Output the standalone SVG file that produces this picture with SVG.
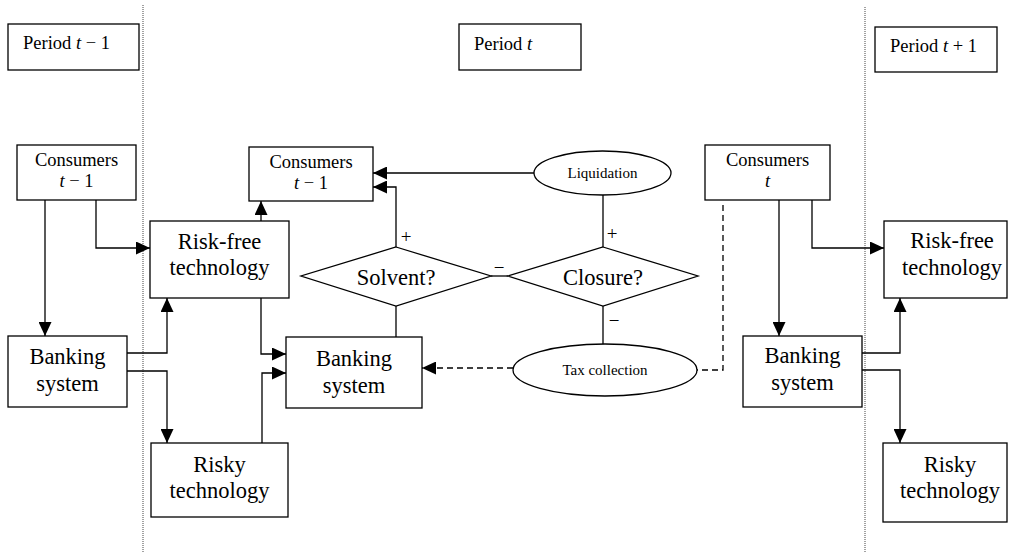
<svg xmlns="http://www.w3.org/2000/svg" width="1012" height="556" viewBox="0 0 1012 556">
<style>
.box{fill:#fff;stroke:#000;stroke-width:1.3}
.line{fill:none;stroke:#000;stroke-width:1.3}
.dash{fill:none;stroke:#000;stroke-width:1.3;stroke-dasharray:6,4}
.dot{fill:none;stroke:#444;stroke-width:1;stroke-dasharray:1,1}
text{font-family:"Liberation Serif","Times New Roman",serif;fill:#000}
.big{font-size:22.5px;text-anchor:middle}
.mid{font-size:18.5px;text-anchor:middle}
.per{font-size:18.5px}
.sm{font-size:15px;text-anchor:middle}
.sign{font-size:19px;text-anchor:middle}
.i{font-style:italic}
</style>
<defs>
<marker id="arr" markerUnits="userSpaceOnUse" markerWidth="14" markerHeight="13" refX="14" refY="6.5" orient="auto">
<path d="M0,0 L14,6.5 L0,13 z" fill="#000"/>
</marker>
</defs>
<rect width="1012" height="556" fill="#fff"/>
<g id="dividers">
<line class="dot" x1="143" y1="5" x2="143" y2="553"/>
<line class="dot" x1="865" y1="7" x2="865" y2="553"/>
</g>
<g id="connectors">
<path class="line" d="M45,200 V336" marker-end="url(#arr)"/>
<path class="line" d="M96,200 V248 H150" marker-end="url(#arr)"/>
<path class="line" d="M127,353 H167 V298" marker-end="url(#arr)"/>
<path class="line" d="M127,371 H167 V443" marker-end="url(#arr)"/>
<path class="line" d="M261,221 V201" marker-end="url(#arr)"/>
<path class="line" d="M261,298 V354 H286" marker-end="url(#arr)"/>
<path class="line" d="M262,443 V373 H286" marker-end="url(#arr)"/>
<path class="line" d="M534,173 H373" marker-end="url(#arr)"/>
<path class="line" d="M396,247 V187 H373" marker-end="url(#arr)"/>
<path class="line" d="M491,276 H508"/>
<path class="line" d="M603,195 V247"/>
<path class="line" d="M396,306 V337"/>
<path class="line" d="M603,306 V344"/>
<path class="dash" d="M513,368 H422" marker-end="url(#arr)"/>
<path class="dash" d="M723,205 V370 H697"/>
<path class="line" d="M779,200 V336" marker-end="url(#arr)"/>
<path class="line" d="M812,200 V248 H884" marker-end="url(#arr)"/>
<path class="line" d="M862,353 H900 V298" marker-end="url(#arr)"/>
<path class="line" d="M862,370 H900 V443" marker-end="url(#arr)"/>
<text class="sign" x="406" y="243">+</text>
<text class="sign" x="612" y="240">+</text>
<text class="sign" x="499" y="274">−</text>
<text class="sign" x="614" y="327">−</text>
</g>
<g id="period-t-minus-1">
<rect class="box" x="8" y="24" width="131" height="46"/>
<text class="per" x="23" y="49">Period <tspan class="i">t</tspan> − 1</text>
</g>
<g id="period-t">
<rect class="box" x="459" y="24" width="122" height="46"/>
<text class="per" x="474" y="50">Period <tspan class="i">t</tspan></text>
</g>
<g id="period-t-plus-1">
<rect class="box" x="875" y="27" width="122" height="45"/>
<text class="per" x="890" y="52">Period <tspan class="i">t</tspan> + 1</text>
</g>
<g id="consumers-left">
<rect class="box" x="17" y="145" width="119" height="55"/>
<text class="mid" x="76.5" y="166">Consumers</text>
<text class="mid" x="76.5" y="187"><tspan class="i">t</tspan> − 1</text>
</g>
<g id="riskfree-left">
<rect class="box" x="150" y="221" width="139" height="77"/>
<text class="big" x="219.5" y="249">Risk-free</text>
<text class="big" x="219.5" y="275">technology</text>
</g>
<g id="banking-left">
<rect class="box" x="8" y="336" width="119" height="71"/>
<text class="big" x="67.5" y="364">Banking</text>
<text class="big" x="67.5" y="391">system</text>
</g>
<g id="risky-left">
<rect class="box" x="151" y="443" width="137" height="74"/>
<text class="big" x="219.5" y="472">Risky</text>
<text class="big" x="219.5" y="498">technology</text>
</g>
<g id="consumers-mid">
<rect class="box" x="249" y="147" width="124" height="54"/>
<text class="mid" x="311" y="168">Consumers</text>
<text class="mid" x="311" y="189"><tspan class="i">t</tspan> − 1</text>
</g>
<g id="liquidation">
<ellipse class="box" cx="602.5" cy="173" rx="68.5" ry="22"/>
<text class="sm" x="602.5" y="178">Liquidation</text>
</g>
<g id="solvent">
<polygon class="box" points="396,247 491,276 396,306 301,276"/>
<text class="big" x="396" y="285">Solvent?</text>
</g>
<g id="closure">
<polygon class="box" points="603,247 698,276 603,306 508,276"/>
<text class="big" x="603" y="285">Closure?</text>
</g>
<g id="banking-mid">
<rect class="box" x="286" y="337" width="136" height="71"/>
<text class="big" x="354" y="366">Banking</text>
<text class="big" x="354" y="393">system</text>
</g>
<g id="tax-collection">
<ellipse class="box" cx="605" cy="370" rx="92" ry="26"/>
<text class="sm" x="605" y="375">Tax collection</text>
</g>
<g id="consumers-t">
<rect class="box" x="705" y="145" width="125" height="55"/>
<text class="mid" x="767.5" y="166">Consumers</text>
<text class="mid i" x="767.5" y="187">t</text>
</g>
<g id="banking-right">
<rect class="box" x="743" y="336" width="119" height="71"/>
<text class="big" x="802.5" y="363">Banking</text>
<text class="big" x="802.5" y="390">system</text>
</g>
<g id="riskfree-right">
<rect class="box" x="884" y="221" width="123" height="77"/>
<text class="big" x="952" y="248">Risk-free</text>
<text class="big" x="952" y="275">technology</text>
</g>
<g id="risky-right">
<rect class="box" x="883" y="443" width="124" height="79"/>
<text class="big" x="950" y="472">Risky</text>
<text class="big" x="950" y="498">technology</text>
</g>
</svg>
